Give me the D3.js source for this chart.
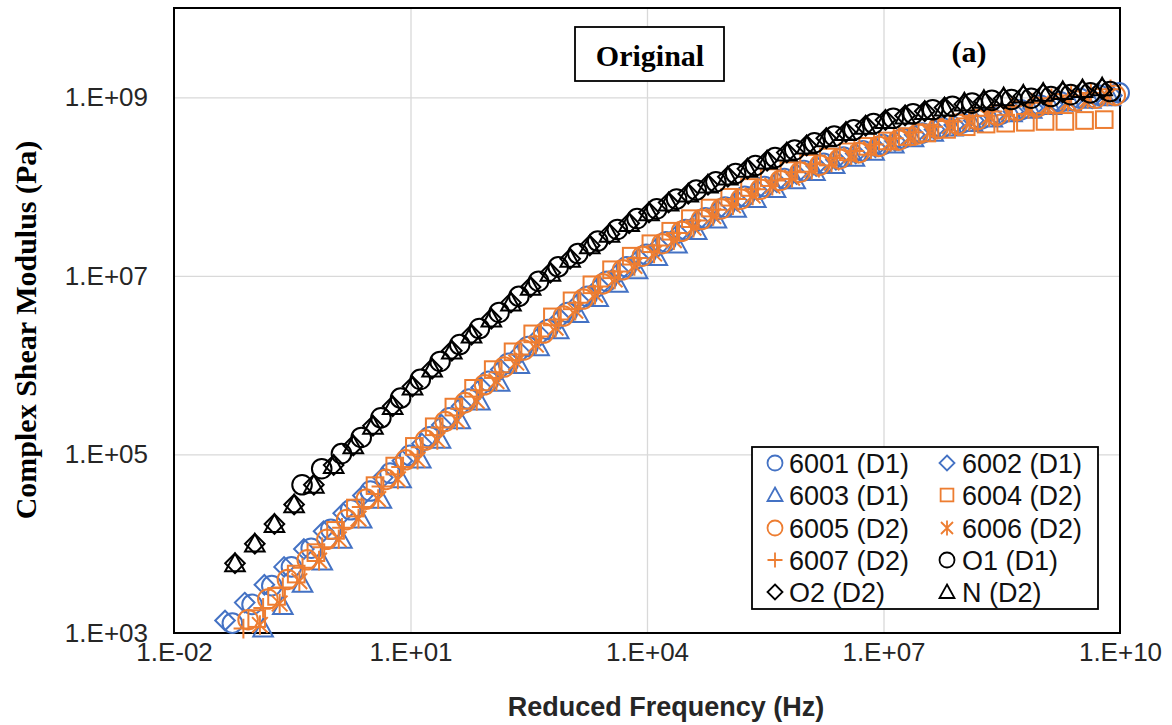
<!DOCTYPE html>
<html>
<head>
<meta charset="utf-8">
<script src="https://cdn.jsdelivr.net/npm/d3@7"></script>
<style>
  html, body { margin: 0; padding: 0; background: #ffffff; }
  svg { display: block; }
</style>
</head>
<body>
<svg id="chart" width="1172" height="725"></svg>
<script>
// ---------------- DATA ----------------
const xTickValues = [1e-2, 1e1, 1e4, 1e7, 1e10];
const xTickLabels = ["1.E-02", "1.E+01", "1.E+04", "1.E+07", "1.E+10"];
const yTickValues = [1e3, 1e5, 1e7, 1e9];
const yTickLabels = ["1.E+03", "1.E+05", "1.E+07", "1.E+09"];

const seriesNames = ["6001 (D1)", "6002 (D1)", "6003 (D1)", "6004 (D2)", "6005 (D2)",
                     "6006 (D2)", "6007 (D2)", "O1 (D1)", "O2 (D2)", "N (D2)"];

// Reduced frequency (Hz) and complex shear modulus (Pa) per series
const freq6001 = [5.50e-2, 9.77e-2, 1.74e-1, 3.09e-1, 5.50e-1, 9.77e-1, 1.74e0, 3.09e0, 5.50e0, 9.77e0,
  1.74e1, 3.09e1, 5.50e1, 9.77e1, 1.74e2, 3.09e2, 5.50e2, 9.77e2, 1.74e3, 3.09e3, 5.50e3, 9.77e3,
  1.74e4, 3.09e4, 5.50e4, 9.77e4, 1.74e5, 3.09e5, 5.50e5, 9.77e5, 1.74e6, 3.09e6, 5.50e6, 9.77e6,
  1.74e7, 3.09e7, 5.50e7, 9.77e7, 1.74e8, 3.09e8, 5.50e8, 9.77e8, 1.74e9, 3.09e9, 5.50e9, 9.77e9];
const g6001 = [1.29e3, 2.09e3, 3.39e3, 5.50e3, 8.91e3, 1.45e4, 2.40e4, 3.89e4, 6.17e4, 9.77e4,
  1.58e5, 2.57e5, 4.17e5, 6.61e5, 1.05e6, 1.62e6, 2.51e6, 3.89e6, 5.89e6, 8.71e6, 1.26e7, 1.74e7,
  2.40e7, 3.31e7, 4.47e7, 5.89e7, 7.76e7, 1.00e8, 1.23e8, 1.51e8, 1.82e8, 2.14e8, 2.51e8, 2.95e8,
  3.47e8, 3.98e8, 4.57e8, 5.13e8, 5.75e8, 6.46e8, 7.24e8, 8.13e8, 8.91e8, 9.77e8, 1.05e9, 1.12e9];

const freq6002 = [4.44e-2, 7.89e-2, 1.40e-1, 2.49e-1, 4.44e-1, 7.89e-1, 1.40e0, 2.49e0, 4.44e0, 7.89e0,
  1.40e1, 2.49e1, 4.44e1, 7.89e1, 1.40e2, 2.49e2, 4.44e2, 7.89e2, 1.40e3, 2.49e3, 4.44e3, 7.89e3,
  1.40e4, 2.49e4, 4.44e4, 7.89e4, 1.40e5, 2.49e5, 4.44e5, 7.89e5, 1.40e6, 2.49e6, 4.44e6, 7.89e6,
  1.40e7, 2.49e7, 4.44e7, 7.89e7, 1.40e8, 2.49e8, 4.44e8, 7.89e8, 1.40e9, 2.49e9, 4.44e9, 7.89e9];
const g6002 = [1.38e3, 2.19e3, 3.47e3, 5.50e3, 8.71e3, 1.38e4, 2.19e4, 3.47e4, 5.50e4, 8.51e4,
  1.32e5, 2.14e5, 3.47e5, 5.62e5, 8.91e5, 1.38e6, 2.14e6, 3.31e6, 5.13e6, 7.59e6, 1.10e7, 1.55e7,
  2.14e7, 2.95e7, 4.07e7, 5.37e7, 6.92e7, 9.12e7, 1.12e8, 1.38e8, 1.70e8, 2.00e8, 2.34e8, 2.75e8,
  3.24e8, 3.80e8, 4.37e8, 4.90e8, 5.50e8, 6.17e8, 6.92e8, 7.59e8, 8.32e8, 9.12e8, 9.77e8, 1.05e9];

const freq6003 = [1.35e-1, 2.40e-1, 4.27e-1, 7.59e-1, 1.35e0, 2.40e0, 4.27e0, 7.59e0,
  1.35e1, 2.40e1, 4.27e1, 7.59e1, 1.35e2, 2.40e2, 4.27e2, 7.59e2, 1.35e3, 2.40e3, 4.27e3, 7.59e3,
  1.35e4, 2.40e4, 4.27e4, 7.59e4, 1.35e5, 2.40e5, 4.27e5, 7.59e5, 1.35e6, 2.40e6, 4.27e6, 7.59e6,
  1.35e7, 2.40e7, 4.27e7, 7.59e7, 1.35e8, 2.40e8, 4.27e8, 7.59e8, 1.35e9, 2.40e9, 4.27e9, 7.59e9];
const g6003 = [1.12e3, 2.00e3, 3.55e3, 6.31e3, 1.10e4, 1.86e4, 3.09e4, 5.25e4, 8.71e4, 1.45e5,
  2.40e5, 3.89e5, 6.31e5, 1.00e6, 1.58e6, 2.45e6, 3.72e6, 5.62e6, 8.13e6, 1.15e7, 1.62e7, 2.24e7,
  3.16e7, 4.27e7, 5.62e7, 7.24e7, 9.33e7, 1.17e8, 1.45e8, 1.74e8, 2.09e8, 2.45e8, 2.95e8, 3.47e8,
  3.98e8, 4.57e8, 5.13e8, 5.75e8, 6.61e8, 7.24e8, 7.94e8, 8.71e8, 9.33e8, 1.00e9];

const freq6004 = [1.12e-1, 2.00e-1, 3.55e-1, 6.31e-1, 1.12e0, 2.00e0, 3.55e0, 6.31e0,
  1.12e1, 2.00e1, 3.55e1, 6.31e1, 1.12e2, 2.00e2, 3.55e2, 6.31e2, 1.12e3, 2.00e3, 3.55e3, 6.31e3,
  1.12e4, 2.00e4, 3.55e4, 6.31e4, 1.12e5, 2.00e5, 3.55e5, 6.31e5, 1.12e6, 2.00e6, 3.55e6, 6.31e6,
  1.12e7, 2.00e7, 3.55e7, 6.31e7, 1.12e8, 2.00e8, 3.55e8, 6.31e8, 1.12e9, 2.00e9, 3.55e9, 6.31e9];
const g6004 = [1.45e3, 2.57e3, 4.57e3, 7.94e3, 1.41e4, 2.51e4, 4.47e4, 7.41e4, 1.23e5, 2.04e5,
  3.39e5, 5.50e5, 8.91e5, 1.41e6, 2.24e6, 3.47e6, 5.25e6, 7.94e6, 1.17e7, 1.66e7, 2.29e7, 3.16e7,
  4.37e7, 5.75e7, 7.59e7, 9.77e7, 1.26e8, 1.51e8, 1.82e8, 2.14e8, 2.45e8, 2.82e8, 3.24e8, 3.63e8,
  3.98e8, 4.37e8, 4.68e8, 5.01e8, 5.13e8, 5.25e8, 5.37e8, 5.37e8, 5.50e8, 5.62e8];

const freq6005 = [8.71e-2, 1.55e-1, 2.75e-1, 4.90e-1, 8.71e-1, 1.55e0, 2.75e0, 4.90e0, 8.71e0,
  1.55e1, 2.75e1, 4.90e1, 8.71e1, 1.55e2, 2.75e2, 4.90e2, 8.71e2, 1.55e3, 2.75e3, 4.90e3, 8.71e3,
  1.55e4, 2.75e4, 4.90e4, 8.71e4, 1.55e5, 2.75e5, 4.90e5, 8.71e5, 1.55e6, 2.75e6, 4.90e6, 8.71e6,
  1.55e7, 2.75e7, 4.90e7, 8.71e7, 1.55e8, 2.75e8, 4.90e8, 8.71e8, 1.55e9, 2.75e9, 4.90e9, 8.71e9];
const g6005 = [1.41e3, 2.40e3, 3.98e3, 6.61e3, 1.12e4, 1.86e4, 3.16e4, 5.25e4, 8.71e4, 1.45e5,
  2.34e5, 3.80e5, 6.03e5, 9.55e5, 1.48e6, 2.29e6, 3.55e6, 5.50e6, 8.13e6, 1.17e7, 1.66e7, 2.29e7,
  3.16e7, 4.27e7, 5.62e7, 7.24e7, 9.33e7, 1.17e8, 1.45e8, 1.74e8, 2.04e8, 2.40e8, 2.82e8, 3.31e8,
  3.89e8, 4.47e8, 5.01e8, 5.62e8, 6.31e8, 7.08e8, 7.76e8, 8.51e8, 9.12e8, 9.77e8, 1.05e9];

const freq6006 = [1.23e-1, 2.19e-1, 3.89e-1, 6.92e-1, 1.23e0, 2.19e0, 3.89e0, 6.92e0,
  1.23e1, 2.19e1, 3.89e1, 6.92e1, 1.23e2, 2.19e2, 3.89e2, 6.92e2, 1.23e3, 2.19e3, 3.89e3, 6.92e3,
  1.23e4, 2.19e4, 3.89e4, 6.92e4, 1.23e5, 2.19e5, 3.89e5, 6.92e5, 1.23e6, 2.19e6, 3.89e6, 6.92e6,
  1.23e7, 2.19e7, 3.89e7, 6.92e7, 1.23e8, 2.19e8, 3.89e8, 6.92e8, 1.23e9, 2.19e9, 3.89e9, 6.92e9];
const g6006 = [1.23e3, 2.14e3, 3.80e3, 6.46e3, 1.12e4, 1.91e4, 3.16e4, 5.25e4, 8.71e4, 1.45e5,
  2.40e5, 3.98e5, 6.61e5, 1.07e6, 1.70e6, 2.63e6, 4.07e6, 6.17e6, 9.12e6, 1.29e7, 1.78e7, 2.51e7,
  3.47e7, 4.68e7, 6.17e7, 7.94e7, 1.02e8, 1.26e8, 1.55e8, 1.86e8, 2.24e8, 2.63e8, 3.16e8, 3.63e8,
  4.17e8, 4.79e8, 5.37e8, 6.03e8, 6.76e8, 7.41e8, 8.13e8, 8.91e8, 9.55e8, 1.02e9];

const freq6007 = [7.59e-2, 1.35e-1, 2.40e-1, 4.27e-1, 7.59e-1, 1.35e0, 2.40e0, 4.27e0, 7.59e0,
  1.35e1, 2.40e1, 4.27e1, 7.59e1, 1.35e2, 2.40e2, 4.27e2, 7.59e2, 1.35e3, 2.40e3, 4.27e3, 7.59e3,
  1.35e4, 2.40e4, 4.27e4, 7.59e4, 1.35e5, 2.40e5, 4.27e5, 7.59e5, 1.35e6, 2.40e6, 4.27e6, 7.59e6,
  1.35e7, 2.40e7, 4.27e7, 7.59e7, 1.35e8, 2.40e8, 4.27e8, 7.59e8, 1.35e9, 2.40e9, 4.27e9, 7.59e9];
const g6007 = [1.12e3, 1.91e3, 3.24e3, 5.37e3, 9.12e3, 1.51e4, 2.57e4, 4.37e4, 7.24e4, 1.20e5,
  2.00e5, 3.24e5, 5.25e5, 8.32e5, 1.32e6, 2.09e6, 3.24e6, 5.01e6, 7.59e6, 1.12e7, 1.58e7, 2.19e7,
  3.02e7, 4.17e7, 5.50e7, 7.24e7, 9.33e7, 1.17e8, 1.45e8, 1.78e8, 2.09e8, 2.51e8, 2.95e8, 3.47e8,
  4.07e8, 4.68e8, 5.37e8, 6.17e8, 6.92e8, 7.94e8, 8.71e8, 9.77e8, 1.05e9, 1.12e9, 1.23e9];

const freqO1 = [4.21e-1, 7.48e-1, 1.33e0, 2.37e0, 4.21e0, 7.48e0,
  1.33e1, 2.37e1, 4.21e1, 7.48e1, 1.33e2, 2.37e2, 4.21e2, 7.48e2, 1.33e3, 2.37e3, 4.21e3, 7.48e3,
  1.33e4, 2.37e4, 4.21e4, 7.48e4, 1.33e5, 2.37e5, 4.21e5, 7.48e5, 1.33e6, 2.37e6, 4.21e6, 7.48e6,
  1.33e7, 2.37e7, 4.21e7, 7.48e7, 1.33e8, 2.37e8, 4.21e8, 7.48e8, 1.33e9, 2.37e9, 4.21e9, 7.48e9];
const gO1 = [4.57e4, 6.92e4, 1.02e5, 1.55e5, 2.57e5, 4.27e5, 6.92e5, 1.10e6, 1.70e6, 2.57e6,
  3.89e6, 5.89e6, 8.71e6, 1.26e7, 1.78e7, 2.45e7, 3.31e7, 4.37e7, 5.62e7, 7.24e7, 9.12e7, 1.13e8,
  1.40e8, 1.72e8, 2.11e8, 2.57e8, 3.09e8, 3.67e8, 4.32e8, 5.07e8, 5.82e8, 6.53e8, 7.24e8, 7.94e8,
  8.61e8, 9.23e8, 9.44e8, 9.77e8, 1.02e9, 1.07e9, 1.12e9, 1.16e9];

const freqO2 = [5.94e-2, 1.06e-1, 1.88e-1, 3.34e-1, 5.94e-1, 1.06e0, 1.88e0, 3.34e0, 5.94e0,
  1.06e1, 1.88e1, 3.34e1, 5.94e1, 1.06e2, 1.88e2, 3.34e2, 5.94e2, 1.06e3, 1.88e3, 3.34e3, 5.94e3,
  1.06e4, 1.88e4, 3.34e4, 5.94e4, 1.06e5, 1.88e5, 3.34e5, 5.94e5, 1.06e6, 1.88e6, 3.34e6, 5.94e6,
  1.06e7, 1.88e7, 3.34e7, 5.94e7, 1.06e8, 1.88e8, 3.34e8, 5.94e8, 1.06e9, 1.88e9, 3.34e9, 5.94e9];
const gO2 = [6.03e3, 1.00e4, 1.66e4, 2.75e4, 4.57e4, 7.59e4, 1.26e5, 2.09e5, 3.47e5, 5.75e5,
  9.12e5, 1.45e6, 2.19e6, 3.31e6, 5.01e6, 7.50e6, 1.08e7, 1.55e7, 2.19e7, 2.95e7, 3.89e7, 5.13e7,
  6.61e7, 8.32e7, 1.05e8, 1.29e8, 1.58e8, 1.95e8, 2.40e8, 2.88e8, 3.47e8, 4.07e8, 4.79e8, 5.56e8,
  6.24e8, 6.98e8, 7.66e8, 8.38e8, 8.97e8, 9.62e8, 1.03e9, 1.08e9, 1.13e9, 1.18e9, 1.24e9];

const freqN = [5.94e-2, 1.06e-1, 1.88e-1, 3.34e-1, 5.94e-1, 1.06e0, 1.88e0, 3.34e0, 5.94e0,
  1.06e1, 1.88e1, 3.34e1, 5.94e1, 1.06e2, 1.88e2, 3.34e2, 5.94e2, 1.06e3, 1.88e3, 3.34e3, 5.94e3,
  1.06e4, 1.88e4, 3.34e4, 5.94e4, 1.06e5, 1.88e5, 3.34e5, 5.94e5, 1.06e6, 1.88e6, 3.34e6, 5.94e6,
  1.06e7, 1.88e7, 3.34e7, 5.94e7, 1.06e8, 1.88e8, 3.34e8, 5.94e8, 1.06e9, 1.88e9, 3.34e9, 5.94e9];
const gN = [6.03e3, 1.00e4, 1.66e4, 2.75e4, 4.57e4, 7.59e4, 1.26e5, 2.09e5, 3.47e5, 5.75e5,
  9.12e5, 1.45e6, 2.19e6, 3.31e6, 5.01e6, 7.50e6, 1.08e7, 1.55e7, 2.19e7, 2.95e7, 3.89e7, 5.13e7,
  6.61e7, 8.32e7, 1.05e8, 1.29e8, 1.58e8, 1.95e8, 2.40e8, 2.88e8, 3.47e8, 4.07e8, 4.79e8, 5.56e8,
  6.24e8, 6.98e8, 7.66e8, 8.71e8, 9.33e8, 1.00e9, 1.07e9, 1.12e9, 1.17e9, 1.23e9, 1.29e9];

// ---------------- STYLE / LAYOUT ----------------
const BLUE = "#4472C4", ORANGE = "#ED7D31", BLACK = "#000000";
const series = [
  { name: seriesNames[0], x: freq6001, y: g6001, color: BLUE,   shape: "circle" },
  { name: seriesNames[1], x: freq6002, y: g6002, color: BLUE,   shape: "diamond" },
  { name: seriesNames[2], x: freq6003, y: g6003, color: BLUE,   shape: "triangle" },
  { name: seriesNames[3], x: freq6004, y: g6004, color: ORANGE, shape: "square" },
  { name: seriesNames[4], x: freq6005, y: g6005, color: ORANGE, shape: "circle" },
  { name: seriesNames[5], x: freq6006, y: g6006, color: ORANGE, shape: "star" },
  { name: seriesNames[6], x: freq6007, y: g6007, color: ORANGE, shape: "plus" },
  { name: seriesNames[7], x: freqO1,   y: gO1,   color: BLACK,  shape: "circle" },
  { name: seriesNames[8], x: freqO2,   y: gO2,   color: BLACK,  shape: "diamond" },
  { name: seriesNames[9], x: freqN,    y: gN,    color: BLACK,  shape: "triangle" }
];

const plot = { left: 174, right: 1120, top: 8, bottom: 633 };
const svg = d3.select("#chart");

const x = d3.scaleLog().domain([1e-2, 1e10]).range([plot.left, plot.right]);
const y = d3.scaleLog().domain([1e3, 1e10]).range([plot.bottom, plot.top]);

// white background
svg.append("rect").attr("x", 0).attr("y", 0).attr("width", 1172).attr("height", 725).attr("fill", "#fff");

// gridlines
const gx = svg.append("g").attr("transform", `translate(0,${plot.bottom})`)
  .call(d3.axisBottom(x).tickValues(xTickValues.slice(1, -1)).tickSize(-(plot.bottom - plot.top)).tickFormat(""));
gx.select(".domain").remove();
gx.selectAll("line").attr("stroke", "#d9d9d9").attr("stroke-width", 1.3);

const gy = svg.append("g").attr("transform", `translate(${plot.left},0)`)
  .call(d3.axisLeft(y).tickValues(yTickValues.slice(1)).tickSize(-(plot.right - plot.left)).tickFormat(""));
gy.select(".domain").remove();
gy.selectAll("line").attr("stroke", "#d9d9d9").attr("stroke-width", 1.3);

// tick labels via axes
const tickFont = "'Liberation Sans', Arial, sans-serif";
const ax = svg.append("g").attr("transform", `translate(0,${plot.bottom})`)
  .call(d3.axisBottom(x).tickValues(xTickValues).tickSize(0).tickPadding(10)
    .tickFormat((d, i) => xTickLabels[i]));
ax.select(".domain").remove();
ax.selectAll("text").attr("font-family", tickFont).attr("font-size", 26).attr("fill", "#262626");

const ay = svg.append("g").attr("transform", `translate(${plot.left},0)`)
  .call(d3.axisLeft(y).tickValues(yTickValues).tickSize(0).tickPadding(26)
    .tickFormat((d, i) => yTickLabels[i]));
ay.select(".domain").remove();
ay.selectAll("text").attr("font-family", tickFont).attr("font-size", 26).attr("fill", "#262626");

// plot border
svg.append("rect").attr("x", plot.left).attr("y", plot.top)
  .attr("width", plot.right - plot.left).attr("height", plot.bottom - plot.top)
  .attr("fill", "none").attr("stroke", "#000").attr("stroke-width", 2);

// marker drawing
function drawMarker(g, shape, cx, cy, h, color, sw) {
  const s = g.append("g").attr("transform", `translate(${cx},${cy})`)
    .attr("fill", "none").attr("stroke", color).attr("stroke-width", sw);
  if (shape === "circle") {
    s.append("circle").attr("r", h);
  } else if (shape === "diamond") {
    s.append("path").attr("d", `M0,${-h}L${h},0L0,${h}L${-h},0Z`);
  } else if (shape === "triangle") {
    s.append("path").attr("d", `M0,${-h}L${h},${h * 0.8}L${-h},${h * 0.8}Z`);
  } else if (shape === "square") {
    const a = h * 0.85;
    s.append("rect").attr("x", -a).attr("y", -a).attr("width", 2 * a).attr("height", 2 * a);
  } else if (shape === "star") {
    const a = h * 0.8;
    s.append("path").attr("d", `M${-a},${-a}L${a},${a}M${a},${-a}L${-a},${a}M0,${-h}L0,${h}`);
  } else if (shape === "plus") {
    s.append("path").attr("d", `M${-h},0L${h},0M0,${-h}L0,${h}`);
  }
}

const marks = svg.append("g");
series.forEach(sr => {
  const g = marks.append("g");
  sr.x.forEach((fx, i) => {
    drawMarker(g, sr.shape, x(fx), y(sr.y[i]), 9.8, sr.color, 2.0);
  });
});

// legend
const lg = svg.append("g");
lg.append("rect").attr("x", 752).attr("y", 447).attr("width", 346).attr("height", 162)
  .attr("fill", "#fff").attr("stroke", "#000").attr("stroke-width", 1.8);
const rowY = [463, 495, 528, 560, 592];
series.forEach((sr, i) => {
  const col = i % 2, row = Math.floor(i / 2);
  const mx = col === 0 ? 775 : 947;
  const tx = col === 0 ? 789 : 962;
  drawMarker(lg, sr.shape, mx, rowY[row], 7.5, sr.color, 1.8);
  lg.append("text").attr("x", tx).attr("y", rowY[row]).attr("dy", "0.36em")
    .attr("font-family", tickFont).attr("font-size", 27).attr("fill", "#111")
    .text(sr.name);
});

// annotation boxes
svg.append("rect").attr("x", 575).attr("y", 27).attr("width", 149).attr("height", 54)
  .attr("fill", "#fff").attr("stroke", "#000").attr("stroke-width", 1.8);
svg.append("text").attr("x", 650).attr("y", 55).attr("dy", "0.35em").attr("text-anchor", "middle")
  .attr("font-family", "'Liberation Serif', 'Times New Roman', serif").attr("font-weight", "bold")
  .attr("font-size", 30).text("Original");
svg.append("text").attr("x", 969).attr("y", 51).attr("dy", "0.35em").attr("text-anchor", "middle")
  .attr("font-family", "'Liberation Serif', 'Times New Roman', serif").attr("font-weight", "bold")
  .attr("font-size", 30).text("(a)");

// axis titles
svg.append("text").attr("x", 666).attr("y", 716).attr("text-anchor", "middle")
  .attr("font-family", tickFont).attr("font-weight", "bold").attr("font-size", 27)
  .attr("fill", "#262626").text("Reduced Frequency (Hz)");
svg.append("text").attr("transform", "translate(36,330) rotate(-90)").attr("text-anchor", "middle")
  .attr("font-family", "'Liberation Serif', 'Times New Roman', serif").attr("font-weight", "bold")
  .attr("font-size", 30).attr("fill", "#000").text("Complex Shear Modulus (Pa)");
</script>
</body>
</html>
